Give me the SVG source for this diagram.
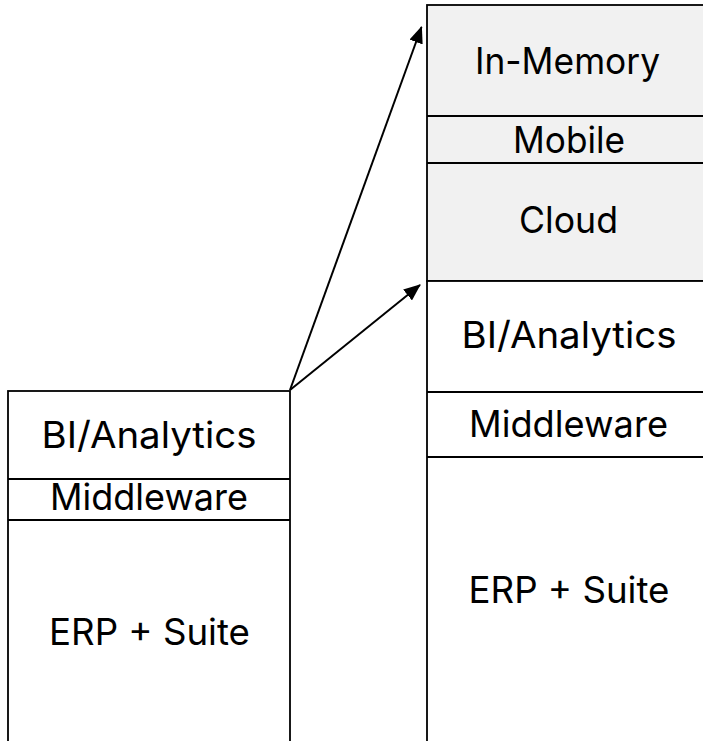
<svg xmlns="http://www.w3.org/2000/svg" width="703" height="741" viewBox="0 0 703 741">
<style>
.box{stroke:#000;stroke-width:1.8;}
.w{fill:#fff;}
.g{fill:#f1f1f1;}
.sep{stroke:#000;stroke-width:1.8;}
text{font-family:Inter,"Liberation Sans",Arial,sans-serif;font-size:37px;font-weight:400;fill:#000;text-anchor:middle;}
.conn{stroke:#000;stroke-width:2;fill:none;}
</style>
<defs>
<marker id="ah" markerUnits="userSpaceOnUse" markerWidth="18" markerHeight="14" refX="16" refY="7" orient="auto">
<path d="M0,0 L17,7 L0,14 z" fill="#000"/>
</marker>
</defs>
<rect width="703" height="741" fill="#fff"/>
<g id="left-stack">
<rect class="box w" x="8" y="391" width="282" height="360"/>
<line class="sep" x1="8" y1="479" x2="290" y2="479"/>
<line class="sep" x1="8" y1="520" x2="290" y2="520"/>
</g>
<g id="left-bi"><text x="149" y="447.5" textLength="215" lengthAdjust="spacingAndGlyphs">BI/Analytics</text></g>
<g id="left-mw"><text x="149" y="510" textLength="198" lengthAdjust="spacingAndGlyphs">Middleware</text></g>
<g id="left-erp"><text x="149.5" y="645" textLength="201" lengthAdjust="spacingAndGlyphs">ERP + Suite</text></g>
<g id="right-stack">
<rect class="box g" x="427" y="5" width="290" height="276"/>
<rect class="box w" x="427" y="281" width="290" height="480"/>
<line class="sep" x1="427" y1="116" x2="717" y2="116"/>
<line class="sep" x1="427" y1="163" x2="717" y2="163"/>
<line class="sep" x1="427" y1="392" x2="717" y2="392"/>
<line class="sep" x1="427" y1="457" x2="717" y2="457"/>
</g>
<g id="right-inmem"><text x="567.5" y="74" textLength="185" lengthAdjust="spacingAndGlyphs">In-Memory</text></g>
<g id="right-mobile"><text x="569" y="153" textLength="112" lengthAdjust="spacingAndGlyphs">Mobile</text></g>
<g id="right-cloud"><text x="568.5" y="233" textLength="99" lengthAdjust="spacingAndGlyphs">Cloud</text></g>
<g id="right-bi"><text x="569" y="348" textLength="215" lengthAdjust="spacingAndGlyphs">BI/Analytics</text></g>
<g id="right-mw"><text x="568.5" y="437" textLength="199" lengthAdjust="spacingAndGlyphs">Middleware</text></g>
<g id="right-erp"><text x="569" y="603" textLength="201" lengthAdjust="spacingAndGlyphs">ERP + Suite</text></g>
<g id="connectors">
<line class="conn" x1="290" y1="390" x2="421.5" y2="27" marker-end="url(#ah)"/>
<line class="conn" x1="290" y1="390" x2="420" y2="285" marker-end="url(#ah)"/>
</g>
</svg>
